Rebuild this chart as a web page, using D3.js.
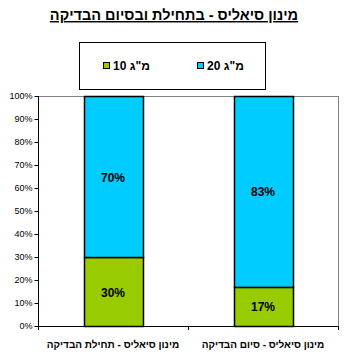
<!DOCTYPE html>
<html><head><meta charset="utf-8">
<script src="https://cdn.jsdelivr.net/npm/d3@7"></script>
<style>body{margin:0;background:#fff}svg{display:block}</style>
</head><body>
<script>
const categories = ["מינון סיאליס - תחילת הבדיקה", "מינון סיאליס - סיום הבדיקה"];
const seriesDose = [10, 20];
const unit = "מ\"ג";
const series10 = [30, 17];
const series20 = [70, 83];
const yTicks = [0,10,20,30,40,50,60,70,80,90,100];
const colors = ["#99CC00", "#00CCFF"];
const title = "מינון סיאליס - בתחילת ובסיום הבדיקה";

const W = 351, H = 362;
const m = {l:38, r:13, t:96, b:36};
const svg = d3.select("body").append("svg").attr("width", W).attr("height", H);
const font = "Liberation Sans, Arial, sans-serif";

const x = d3.scaleBand().domain(categories).range([m.l, W - m.r]).paddingInner(0.607).paddingOuter(0.3035);
const y = d3.scaleLinear().domain([0,100]).range([H - m.b, m.t]);

// title
svg.append("text").attr("x", 174).attr("y", 20).attr("text-anchor","middle")
  .attr("font-family", font).attr("font-size", 14.5).attr("font-weight","bold")
  .attr("text-decoration","underline").text(title);

// legend
svg.append("rect").attr("x",79.5).attr("y",42.5).attr("width",186).attr("height",47)
  .attr("fill","none").attr("stroke","#000").attr("stroke-width",1);
const legX = [103, 197];
[0,1].forEach(i => {
  svg.append("rect").attr("x", legX[i]+0.5).attr("y", 62.5).attr("width",6).attr("height",6)
    .attr("fill", colors[i]).attr("stroke","#000").attr("stroke-width",1);
  svg.append("text").attr("x", legX[i]+10).attr("y", 70).attr("font-family", font)
    .attr("font-size", 12).attr("font-weight","bold").attr("text-anchor","start")
    .text(unit + " " + seriesDose[i]);
});

// gray frame top/right
svg.append("line").attr("x1", m.l).attr("x2", W-m.r).attr("y1", y(100)+0.5).attr("y2", y(100)+0.5).attr("stroke","#808080");
svg.append("line").attr("x1", W-m.r+0.5).attr("x2", W-m.r+0.5).attr("y1", y(100)).attr("y2", y(0)).attr("stroke","#808080");

// bars
const stack = categories.map((c,i)=>[{c, y0:0, y1:series10[i], col:colors[0], v:series10[i]},{c, y0:series10[i], y1:series10[i]+series20[i], col:colors[1], v:series20[i]}]).flat();
svg.selectAll("rect.bar").data(stack).enter().append("rect").attr("class","bar")
  .attr("x", d=>Math.round(x(d.c))+0.5).attr("width", Math.round(x.bandwidth()))
  .attr("y", d=>y(d.y1)+0.5).attr("height", d=>y(d.y0)-y(d.y1))
  .attr("fill", d=>d.col).attr("stroke","#000").attr("stroke-width",1.5);
svg.selectAll("text.lbl").data(stack).enter().append("text").attr("class","lbl")
  .attr("x", d=>x(d.c)+x.bandwidth()/2).attr("y", d=>(y(d.y0)+y(d.y1))/2+5)
  .attr("text-anchor","middle").attr("font-family", font).attr("font-size",12).attr("font-weight","bold")
  .text(d=>d.v+"%");

// y axis
const ya = svg.append("g").attr("transform",`translate(${m.l+0.5},0)`)
  .call(d3.axisLeft(y).tickValues(yTicks).tickSize(4).tickFormat(d=>d+"%"));
ya.select(".domain").attr("stroke","#000").attr("d", `M-0,${y(100)}V${y(0)}`);
ya.selectAll("text").attr("font-family", font).attr("font-size", 9).attr("fill","#000").attr("dx", 1);
ya.selectAll("line").attr("stroke","#000");

// x axis
svg.append("line").attr("x1", m.l).attr("x2", W-m.r+1).attr("y1", y(0)+0.5).attr("y2", y(0)+0.5).attr("stroke","#000");
const xt = [m.l, (m.l + W - m.r)/2, W - m.r];
svg.selectAll("line.xt").data(xt).enter().append("line").attr("class","xt")
  .attr("x1", d=>d+0.5).attr("x2", d=>d+0.5).attr("y1", y(0)).attr("y2", y(0)+4).attr("stroke","#000");
svg.selectAll("text.cat").data(categories).enter().append("text").attr("class","cat")
  .attr("x", d=>x(d)+x.bandwidth()/2).attr("y", 348).attr("text-anchor","middle")
  .attr("font-family", font).attr("font-size", 10).attr("font-weight","bold")
  .text(d=>d);
</script>
</body></html>
